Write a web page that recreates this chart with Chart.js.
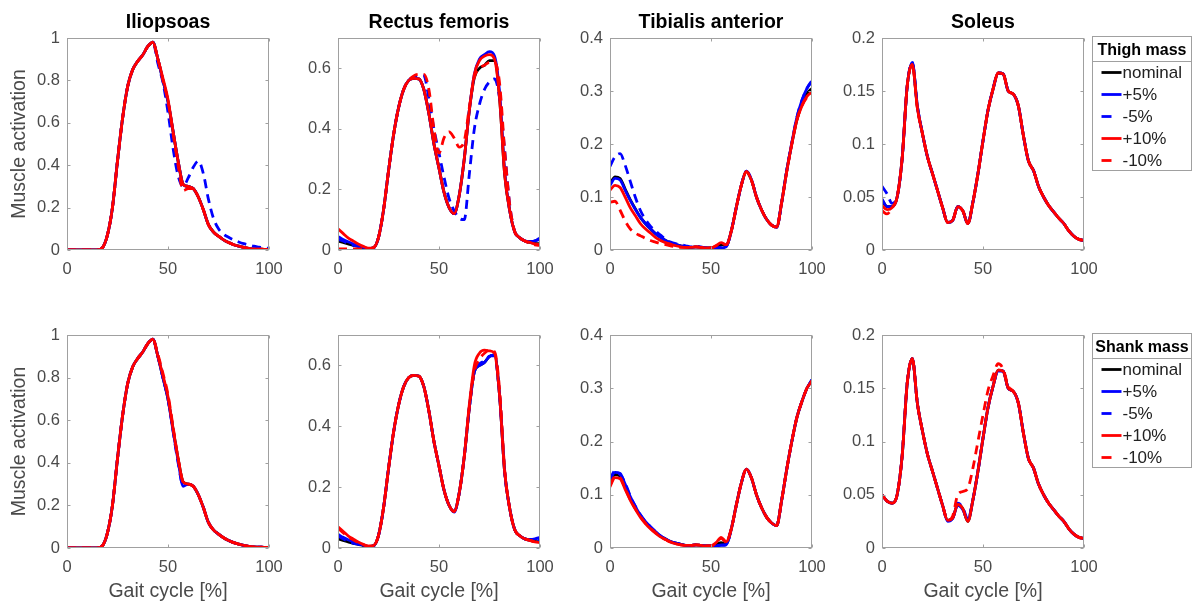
<!DOCTYPE html>
<html>
<head>
<meta charset="utf-8">
<script src="https://cdn.jsdelivr.net/npm/chart.js@4.4.1/dist/chart.umd.min.js"></script>
<style>
  body { margin: 0; background: #fff; }
  #wrap { position: relative; width: 1196px; height: 606px; overflow: hidden; background: #fff; }
  canvas { position: absolute; }
</style>
</head>
<body>
<div id="wrap"></div>
<script>
// x positions (gait cycle, %)
const gaitCycle = [0,2.5,5,7.5,10,12.5,15,17.5,20,22.5,25,27.5,30,32.5,35,37.5,40,42.5,45,47.5,50,52.5,55,57.5,60,62.5,65,67.5,70,72.5,75,77.5,80,82.5,85,87.5,90,92.5,95,97.5,100];

const xTicks = [0, 50, 100];
const yTicksIlio = [0, 0.2, 0.4, 0.6, 0.8, 1];
const yTicksRect = [0, 0.2, 0.4, 0.6];
const yTicksTib = [0, 0.1, 0.2, 0.3, 0.4];
const yTicksSol = [0, 0.05, 0.1, 0.15, 0.2];
const yLimits = [1, 0.7, 0.4, 0.2];

const muscles = ['Iliopsoas', 'Rectus femoris', 'Tibialis anterior', 'Soleus'];
const groups = ['Thigh mass', 'Shank mass'];
const seriesLabels = ['nominal', '+5%', '-5%', '+10%', '-10%'];

// ---- thigh mass ----
const ilioThighNominal = [0,0,0,0,0,0,0,0.01,0.07,0.2, 0.42,0.62,0.77,0.85,0.89,0.92,0.96,0.98,0.9,0.8, 0.7,0.56,0.42,0.31,0.3,0.29,0.25,0.19,0.12,0.085, 0.065,0.048,0.035,0.025,0.018,0.012,0.008,0.005,0.004,0.003,0.002];
const ilioThighP5 = [0,0,0,0,0,0,0,0.01,0.07,0.2, 0.42,0.62,0.77,0.85,0.89,0.92,0.96,0.98,0.9,0.8, 0.7,0.56,0.42,0.31,0.3,0.29,0.25,0.19,0.12,0.085, 0.065,0.048,0.035,0.025,0.018,0.012,0.008,0.005,0.004,0.003,0.002];
const ilioThighM5 = [0,0,0,0,0,0,0,0.01,0.07,0.2, 0.42,0.62,0.77,0.85,0.89,0.92,0.96,0.98,0.88,0.79, 0.65,0.48,0.35,0.3,0.34,0.39,0.42,0.36,0.24,0.15, 0.1,0.075,0.06,0.048,0.038,0.03,0.024,0.018,0.014,0.01,0.008];
const ilioThighP10 = [0,0,0,0,0,0,0,0.01,0.07,0.2, 0.42,0.62,0.77,0.85,0.89,0.92,0.96,0.98,0.9,0.81, 0.71,0.56,0.42,0.31,0.3,0.29,0.25,0.19,0.12,0.085, 0.065,0.048,0.035,0.025,0.018,0.012,0.008,0.005,0.004,0.003,0.002];
const ilioThighM10 = [0,0,0,0,0,0,0,0.01,0.07,0.2, 0.42,0.62,0.77,0.85,0.89,0.92,0.96,0.98,0.9,0.8, 0.7,0.55,0.4,0.28,0.29,0.29,0.25,0.19,0.12,0.085, 0.065,0.048,0.035,0.025,0.018,0.012,0.008,0.005,0.004,0.003,0.002];

const rectThighNominal = [0.03,0.025,0.02,0.015,0.012,0.008,0.005,0.007,0.04,0.13, 0.26,0.38,0.47,0.53,0.56,0.567,0.565,0.53,0.45,0.35, 0.27,0.19,0.14,0.12,0.18,0.3,0.46,0.57,0.6,0.61, 0.625,0.625,0.5,0.25,0.13,0.06,0.04,0.03,0.025,0.022,0.02];
const rectThighP5 = [0.045,0.035,0.027,0.02,0.014,0.009,0.005,0.007,0.04,0.13, 0.26,0.38,0.47,0.53,0.56,0.567,0.565,0.53,0.45,0.35, 0.27,0.19,0.14,0.12,0.18,0.3,0.46,0.58,0.63,0.645, 0.655,0.64,0.52,0.26,0.13,0.06,0.04,0.03,0.028,0.03,0.04];
const rectThighM5 = [0.035,0.03,0.022,0.016,0.012,0.008,0.005,0.007,0.04,0.13, 0.26,0.38,0.47,0.53,0.56,0.57,0.575,0.575,0.5,0.4, 0.32,0.24,0.17,0.13,0.105,0.1,0.25,0.4,0.48,0.53, 0.555,0.565,0.5,0.33,0.15,0.06,0.04,0.03,0.025,0.03,0.035];
const rectThighP10 = [0.07,0.055,0.04,0.03,0.02,0.012,0.006,0.008,0.04,0.13, 0.26,0.38,0.47,0.53,0.56,0.567,0.565,0.53,0.45,0.35, 0.27,0.19,0.14,0.12,0.18,0.3,0.46,0.58,0.625,0.64, 0.645,0.63,0.5,0.25,0.13,0.06,0.04,0.03,0.025,0.02,0.018];
const rectThighM10 = [0.004,0.004,0.004,0.004,0.004,0.004,0.004,0.007,0.04,0.13, 0.26,0.38,0.47,0.53,0.56,0.575,0.58,0.58,0.53,0.4, 0.32,0.37,0.39,0.37,0.34,0.36,0.47,0.57,0.6,0.61, 0.62,0.62,0.55,0.33,0.15,0.06,0.04,0.03,0.022,0.017,0.015];

const tibThighNominal = [0.125,0.138,0.135,0.115,0.095,0.078,0.062,0.05,0.04,0.031, 0.024,0.018,0.013,0.01,0.008,0.006,0.005,0.006,0.005,0.004, 0.004,0.006,0.01,0.008,0.035,0.08,0.122,0.148,0.132,0.1, 0.076,0.058,0.047,0.043,0.09,0.15,0.2,0.245,0.275,0.295,0.305];
const tibThighP5 = [0.122,0.135,0.132,0.113,0.094,0.077,0.062,0.05,0.04,0.031, 0.024,0.018,0.013,0.01,0.008,0.006,0.005,0.006,0.005,0.004, 0.004,0.004,0.004,0.006,0.035,0.08,0.122,0.149,0.133,0.1, 0.076,0.058,0.047,0.043,0.09,0.15,0.202,0.25,0.282,0.305,0.318];
const tibThighM5 = [0.158,0.176,0.182,0.16,0.13,0.1,0.075,0.058,0.045,0.036, 0.028,0.02,0.015,0.012,0.01,0.008,0.006,0.007,0.006,0.004, 0.004,0.004,0.005,0.007,0.035,0.08,0.122,0.149,0.133,0.1, 0.076,0.058,0.047,0.043,0.09,0.15,0.202,0.25,0.282,0.305,0.32];
const tibThighP10 = [0.113,0.122,0.118,0.1,0.08,0.065,0.05,0.04,0.032,0.024, 0.018,0.014,0.011,0.008,0.006,0.005,0.005,0.006,0.005,0.004, 0.004,0.008,0.014,0.01,0.035,0.08,0.122,0.148,0.132,0.1, 0.076,0.058,0.047,0.043,0.09,0.148,0.2,0.245,0.272,0.29,0.298];
const tibThighM10 = [0.09,0.092,0.075,0.055,0.04,0.032,0.027,0.022,0.018,0.015, 0.012,0.01,0.008,0.006,0.005,0.005,0.005,0.006,0.005,0.004, 0.004,0.008,0.013,0.01,0.035,0.08,0.122,0.148,0.132,0.1, 0.076,0.058,0.047,0.043,0.09,0.148,0.2,0.245,0.272,0.288,0.295];

const solThighNominal = [0.047,0.041,0.041,0.05,0.087,0.155,0.176,0.135,0.11,0.088, 0.072,0.056,0.04,0.026,0.028,0.041,0.037,0.025,0.045,0.072, 0.103,0.132,0.152,0.167,0.166,0.15,0.147,0.136,0.108,0.084, 0.075,0.06,0.05,0.042,0.036,0.03,0.025,0.018,0.013,0.01,0.009];
const solThighP5 = [0.048,0.041,0.041,0.05,0.087,0.155,0.177,0.136,0.11,0.088, 0.072,0.056,0.04,0.026,0.028,0.041,0.037,0.025,0.045,0.072, 0.103,0.132,0.152,0.167,0.166,0.15,0.147,0.136,0.108,0.084, 0.075,0.06,0.05,0.042,0.036,0.03,0.025,0.018,0.013,0.01,0.009];
const solThighM5 = [0.06,0.053,0.044,0.05,0.087,0.155,0.177,0.136,0.11,0.088, 0.072,0.056,0.04,0.026,0.028,0.041,0.037,0.025,0.045,0.072, 0.103,0.132,0.152,0.167,0.166,0.15,0.147,0.136,0.108,0.084, 0.075,0.06,0.05,0.042,0.036,0.03,0.025,0.018,0.013,0.01,0.009];
const solThighP10 = [0.042,0.038,0.04,0.05,0.087,0.155,0.175,0.134,0.11,0.088, 0.072,0.056,0.04,0.026,0.028,0.041,0.037,0.025,0.045,0.072, 0.103,0.132,0.152,0.167,0.166,0.15,0.147,0.136,0.108,0.084, 0.075,0.06,0.05,0.042,0.036,0.03,0.025,0.018,0.013,0.01,0.009];
const solThighM10 = [0.037,0.034,0.04,0.05,0.087,0.155,0.175,0.134,0.11,0.088, 0.072,0.056,0.04,0.026,0.028,0.041,0.037,0.025,0.045,0.072, 0.103,0.132,0.152,0.167,0.166,0.15,0.147,0.136,0.108,0.084, 0.075,0.06,0.05,0.042,0.036,0.03,0.025,0.018,0.013,0.01,0.009];

// ---- shank mass ----
const ilioShankNominal = [0,0,0,0,0,0,0,0.01,0.07,0.2, 0.42,0.62,0.77,0.85,0.89,0.92,0.96,0.98,0.9,0.8, 0.7,0.56,0.42,0.31,0.3,0.29,0.25,0.19,0.12,0.085, 0.065,0.048,0.035,0.025,0.018,0.012,0.008,0.005,0.004,0.003,0.002];
const ilioShankP5 = [0,0,0,0,0,0,0,0.01,0.07,0.2, 0.42,0.62,0.77,0.85,0.89,0.92,0.96,0.98,0.9,0.8, 0.7,0.55,0.41,0.29,0.3,0.29,0.25,0.19,0.12,0.085, 0.065,0.048,0.035,0.025,0.018,0.012,0.008,0.005,0.004,0.003,0.002];
const ilioShankM5 = [0,0,0,0,0,0,0,0.01,0.07,0.2, 0.42,0.62,0.77,0.85,0.89,0.92,0.96,0.98,0.9,0.8, 0.7,0.55,0.4,0.295,0.3,0.29,0.25,0.19,0.12,0.085, 0.065,0.048,0.035,0.025,0.018,0.012,0.008,0.005,0.004,0.003,0.002];
const ilioShankP10 = [0,0,0,0,0,0,0,0.01,0.07,0.2, 0.42,0.62,0.77,0.85,0.89,0.92,0.96,0.98,0.9,0.81, 0.71,0.56,0.42,0.31,0.3,0.29,0.25,0.19,0.12,0.085, 0.065,0.048,0.035,0.025,0.018,0.012,0.008,0.005,0.004,0.003,0.002];
const ilioShankM10 = [0,0,0,0,0,0,0,0.01,0.07,0.2, 0.42,0.62,0.77,0.85,0.89,0.92,0.96,0.98,0.91,0.82, 0.72,0.57,0.42,0.31,0.3,0.29,0.25,0.19,0.12,0.085, 0.065,0.048,0.035,0.025,0.018,0.012,0.008,0.005,0.004,0.003,0.002];

const rectShankNominal = [0.03,0.025,0.02,0.015,0.012,0.008,0.005,0.007,0.04,0.13, 0.26,0.38,0.47,0.53,0.56,0.567,0.565,0.53,0.45,0.35, 0.27,0.19,0.14,0.12,0.18,0.3,0.46,0.58,0.6,0.61, 0.63,0.635,0.5,0.25,0.13,0.06,0.04,0.03,0.025,0.022,0.02];
const rectShankP5 = [0.045,0.035,0.027,0.02,0.014,0.009,0.005,0.007,0.04,0.13, 0.26,0.38,0.47,0.53,0.56,0.567,0.565,0.53,0.45,0.35, 0.27,0.19,0.14,0.118,0.18,0.3,0.46,0.58,0.6,0.61, 0.63,0.635,0.5,0.25,0.13,0.06,0.04,0.03,0.028,0.03,0.035];
const rectShankM5 = [0.04,0.03,0.022,0.016,0.012,0.008,0.005,0.007,0.04,0.13, 0.26,0.38,0.47,0.53,0.56,0.567,0.565,0.53,0.45,0.35, 0.27,0.19,0.14,0.12,0.18,0.3,0.46,0.58,0.605,0.615, 0.63,0.632,0.5,0.25,0.13,0.06,0.04,0.03,0.026,0.025,0.025];
const rectShankP10 = [0.07,0.055,0.04,0.03,0.02,0.012,0.006,0.008,0.04,0.13, 0.26,0.38,0.47,0.53,0.56,0.567,0.565,0.53,0.45,0.35, 0.27,0.19,0.14,0.12,0.18,0.3,0.47,0.6,0.64,0.65, 0.648,0.64,0.5,0.25,0.13,0.06,0.04,0.03,0.025,0.02,0.018];
const rectShankM10 = [0.065,0.05,0.037,0.027,0.018,0.011,0.006,0.008,0.04,0.13, 0.26,0.38,0.47,0.53,0.56,0.567,0.565,0.53,0.45,0.35, 0.27,0.19,0.14,0.12,0.18,0.3,0.46,0.58,0.62,0.64, 0.65,0.645,0.52,0.26,0.13,0.06,0.04,0.03,0.025,0.02,0.018];

const tibShankNominal = [0.125,0.138,0.135,0.115,0.092,0.075,0.06,0.048,0.038,0.03, 0.022,0.017,0.012,0.009,0.007,0.005,0.005,0.006,0.005,0.004, 0.004,0.006,0.01,0.008,0.035,0.08,0.122,0.148,0.132,0.1, 0.076,0.058,0.047,0.042,0.09,0.148,0.2,0.245,0.275,0.3,0.315];
const tibShankP5 = [0.13,0.142,0.14,0.12,0.097,0.078,0.062,0.05,0.04,0.031, 0.023,0.017,0.012,0.009,0.007,0.005,0.005,0.006,0.005,0.004, 0.004,0.004,0.005,0.006,0.035,0.08,0.122,0.148,0.132,0.1, 0.076,0.058,0.047,0.042,0.09,0.148,0.2,0.245,0.275,0.3,0.316];
const tibShankM5 = [0.128,0.145,0.138,0.122,0.098,0.079,0.063,0.05,0.04,0.031, 0.023,0.017,0.012,0.009,0.007,0.005,0.005,0.006,0.005,0.004, 0.004,0.004,0.006,0.006,0.035,0.08,0.122,0.148,0.132,0.1, 0.076,0.058,0.047,0.042,0.09,0.148,0.2,0.245,0.275,0.3,0.316];
const tibShankP10 = [0.115,0.132,0.13,0.11,0.09,0.073,0.058,0.046,0.036,0.028, 0.021,0.016,0.011,0.008,0.006,0.005,0.005,0.006,0.005,0.004, 0.004,0.01,0.02,0.012,0.035,0.08,0.122,0.148,0.132,0.1, 0.076,0.058,0.047,0.042,0.09,0.148,0.2,0.245,0.275,0.3,0.314];
const tibShankM10 = [0.118,0.134,0.132,0.112,0.091,0.074,0.059,0.047,0.037,0.029, 0.021,0.016,0.011,0.008,0.006,0.005,0.005,0.006,0.005,0.004, 0.004,0.009,0.018,0.011,0.035,0.08,0.122,0.148,0.132,0.1, 0.076,0.058,0.047,0.042,0.09,0.148,0.2,0.245,0.275,0.3,0.314];

const solShankNominal = [0.05,0.044,0.042,0.05,0.087,0.155,0.178,0.136,0.11,0.088, 0.072,0.056,0.04,0.026,0.028,0.041,0.037,0.025,0.045,0.072, 0.103,0.132,0.152,0.167,0.166,0.15,0.147,0.136,0.108,0.084, 0.075,0.06,0.05,0.042,0.036,0.03,0.025,0.018,0.013,0.01,0.009];
const solShankP5 = [0.05,0.044,0.042,0.05,0.087,0.155,0.178,0.136,0.11,0.088, 0.072,0.056,0.04,0.025,0.028,0.04,0.036,0.026,0.045,0.072, 0.103,0.132,0.152,0.166,0.166,0.15,0.147,0.136,0.108,0.084, 0.075,0.06,0.05,0.042,0.036,0.03,0.025,0.018,0.013,0.01,0.009];
const solShankM5 = [0.05,0.044,0.042,0.05,0.087,0.155,0.178,0.136,0.11,0.088, 0.072,0.056,0.04,0.026,0.028,0.042,0.038,0.027,0.045,0.072, 0.103,0.132,0.152,0.167,0.166,0.15,0.147,0.136,0.108,0.084, 0.075,0.06,0.05,0.042,0.036,0.03,0.025,0.018,0.013,0.01,0.009];
const solShankP10 = [0.05,0.044,0.042,0.05,0.087,0.155,0.178,0.136,0.11,0.088, 0.072,0.056,0.04,0.026,0.028,0.041,0.037,0.025,0.045,0.072, 0.103,0.132,0.152,0.167,0.166,0.15,0.147,0.136,0.108,0.084, 0.075,0.06,0.05,0.042,0.036,0.03,0.025,0.018,0.013,0.01,0.009];
const solShankM10 = [0.05,0.044,0.042,0.05,0.087,0.155,0.178,0.136,0.11,0.088, 0.072,0.056,0.04,0.026,0.03,0.05,0.053,0.056,0.075,0.1, 0.125,0.148,0.162,0.173,0.168,0.152,0.147,0.136,0.108,0.084, 0.075,0.06,0.05,0.042,0.036,0.03,0.025,0.018,0.013,0.01,0.009];

const panelData = [
  [
    [ilioThighNominal, ilioThighP5, ilioThighM5, ilioThighP10, ilioThighM10],
    [rectThighNominal, rectThighP5, rectThighM5, rectThighP10, rectThighM10],
    [tibThighNominal, tibThighP5, tibThighM5, tibThighP10, tibThighM10],
    [solThighNominal, solThighP5, solThighM5, solThighP10, solThighM10]
  ],
  [
    [ilioShankNominal, ilioShankP5, ilioShankM5, ilioShankP10, ilioShankM10],
    [rectShankNominal, rectShankP5, rectShankM5, rectShankP10, rectShankM10],
    [tibShankNominal, tibShankP5, tibShankM5, tibShankP10, tibShankM10],
    [solShankNominal, solShankP5, solShankM5, solShankP10, solShankM10]
  ]
];
const yTickSets = [yTicksIlio, yTicksRect, yTicksTib, yTicksSol];

// styles
const lineColors = ['#000000', '#0000ff', '#0000ff', '#ff0000', '#ff0000'];
const lineDashes = [[], [], [9, 6], [], [9, 6]];
const tickColor = '#4a4a4a';
const frameColor = '#a0a0a0';

// layout (px)
const plotLefts = [67, 338, 610, 882];
const plotW = 202;
const yAxisW = 67;
const rowTops = [0, 297];
const rowHeights = [297, 309];
const xAxisHeights = [47, 58];

Chart.defaults.font.family = "'Liberation Sans', Arial, sans-serif";

// box around the plot area with inward tick marks
const framePlugin = {
  id: 'frame',
  afterDatasetsDraw(chart) {
    const { ctx, chartArea: a, scales } = chart;
    const L = Math.round(a.left) + 0.5, T = Math.round(a.top) + 0.5;
    const R = Math.round(a.right) - 0.5, B = Math.round(a.bottom) - 0.5;
    ctx.save();
    ctx.strokeStyle = frameColor;
    ctx.lineWidth = 1;
    ctx.strokeRect(L, T, R - L, B - T);
    ctx.beginPath();
    scales.x.ticks.forEach(t => {
      const px = Math.round(scales.x.getPixelForValue(t.value)) + 0.5;
      ctx.moveTo(px, B); ctx.lineTo(px, B - 3);
      ctx.moveTo(px, T); ctx.lineTo(px, T + 3);
    });
    scales.y.ticks.forEach(t => {
      const py = Math.round(scales.y.getPixelForValue(t.value)) + 0.5;
      ctx.moveTo(L, py); ctx.lineTo(L + 3, py);
      ctx.moveTo(R, py); ctx.lineTo(R - 3, py);
    });
    ctx.stroke();
    ctx.restore();
  }
};

// MATLAB-style boxed legend with a title, right of the last panel
const massLegendPlugin = {
  id: 'massLegend',
  afterDraw(chart, args, opts) {
    if (!opts.title) return;
    const { ctx, chartArea: a } = chart;
    const x0 = Math.round(a.right) + 8.5, y0 = Math.round(a.top) - 1.5;
    const w = 99, h = 134;
    ctx.save();
    ctx.strokeStyle = frameColor;
    ctx.lineWidth = 1;
    ctx.fillStyle = '#fff';
    ctx.fillRect(x0, y0, w, h);
    ctx.strokeRect(x0, y0, w, h);
    ctx.beginPath();
    ctx.moveTo(x0, y0 + 25); ctx.lineTo(x0 + w, y0 + 25);
    ctx.stroke();
    ctx.fillStyle = '#000';
    ctx.font = "bold 16px 'Liberation Sans', Arial, sans-serif";
    ctx.textAlign = 'center';
    ctx.textBaseline = 'middle';
    ctx.fillText(opts.title, x0 + w / 2, y0 + 14);
    ctx.font = "17px 'Liberation Sans', Arial, sans-serif";
    ctx.textAlign = 'left';
    chart.data.datasets.forEach((ds, i) => {
      const y = y0 + 36 + i * 22;
      ctx.strokeStyle = ds.borderColor;
      ctx.lineWidth = 2.8;
      ctx.beginPath();
      ctx.moveTo(x0 + 9, y);
      ctx.lineTo(x0 + (ds.borderDash.length ? 19 : 29), y);
      ctx.stroke();
      ctx.fillStyle = '#222';
      ctx.fillText(ds.label, x0 + 30, y + 1);
    });
    ctx.restore();
  }
};

const wrap = document.getElementById('wrap');

for (let r = 0; r < 2; r++) {
  for (let c = 0; c < 4; c++) {
    const isLast = c === 3;
    const padRight = isLast ? 1196 - (plotLefts[3] + plotW) : 19;
    const w = yAxisW + plotW + padRight;
    const h = rowHeights[r];
    const canvas = document.createElement('canvas');
    canvas.width = w;
    canvas.height = h;
    canvas.style.left = (plotLefts[c] - yAxisW) + 'px';
    canvas.style.top = rowTops[r] + 'px';
    canvas.style.width = w + 'px';
    canvas.style.height = h + 'px';
    wrap.appendChild(canvas);

    const datasets = panelData[r][c].map((vals, i) => ({
      label: seriesLabels[i],
      data: vals.map((v, k) => ({ x: gaitCycle[k], y: v })),
      borderColor: lineColors[i],
      borderDash: lineDashes[i],
      borderWidth: 2.8,
      pointRadius: 0,
      fill: false,
      cubicInterpolationMode: 'monotone',
      order: seriesLabels.length - 1 - i
    }));

    const yTicks = yTickSets[c];

    new Chart(canvas, {
      type: 'line',
      data: { datasets: datasets },
      plugins: [framePlugin, massLegendPlugin],
      options: {
        responsive: false,
        animation: false,
        events: [],
        layout: { padding: { top: r === 0 ? 0 : 38, right: padRight, left: 0, bottom: 0 } },
        plugins: {
          legend: { display: false },
          tooltip: { enabled: false },
          title: {
            display: r === 0,
            text: muscles[c],
            fullSize: false,
            color: '#000',
            font: { size: 19.5, weight: 'bold' },
            padding: { top: 11.3, bottom: 3.3 }
          },
          massLegend: { title: isLast ? groups[r] : '' }
        },
        scales: {
          x: {
            type: 'linear',
            min: 0,
            max: 100,
            afterBuildTicks: s => { s.ticks = xTicks.map(v => ({ value: v })); },
            afterFit: s => { s.height = xAxisHeights[r]; s.paddingLeft = 0; s.paddingRight = 0; },
            grid: { display: false, drawTicks: false },
            border: { display: false },
            ticks: { color: tickColor, font: { size: 16.5 }, padding: 9.5, maxRotation: 0, autoSkip: false },
            title: {
              display: r === 1,
              text: 'Gait cycle [%]',
              color: tickColor,
              font: { size: 19.5 },
              padding: { top: 0, bottom: 3 }
            }
          },
          y: {
            min: 0,
            max: yLimits[c],
            afterBuildTicks: s => { s.ticks = yTicks.map(v => ({ value: v })); },
            afterFit: s => { s.width = yAxisW; s.paddingTop = 0; s.paddingBottom = 0; },
            grid: { display: false, drawTicks: false },
            border: { display: false },
            ticks: { color: tickColor, font: { size: 16.5 }, padding: 7, autoSkip: false, callback: v => String(v) },
            title: {
              display: c === 0,
              text: 'Muscle activation',
              color: tickColor,
              font: { size: 19.5 },
              padding: { top: 8, bottom: 0 }
            }
          }
        }
      }
    });
  }
}
</script>
</body>
</html>
